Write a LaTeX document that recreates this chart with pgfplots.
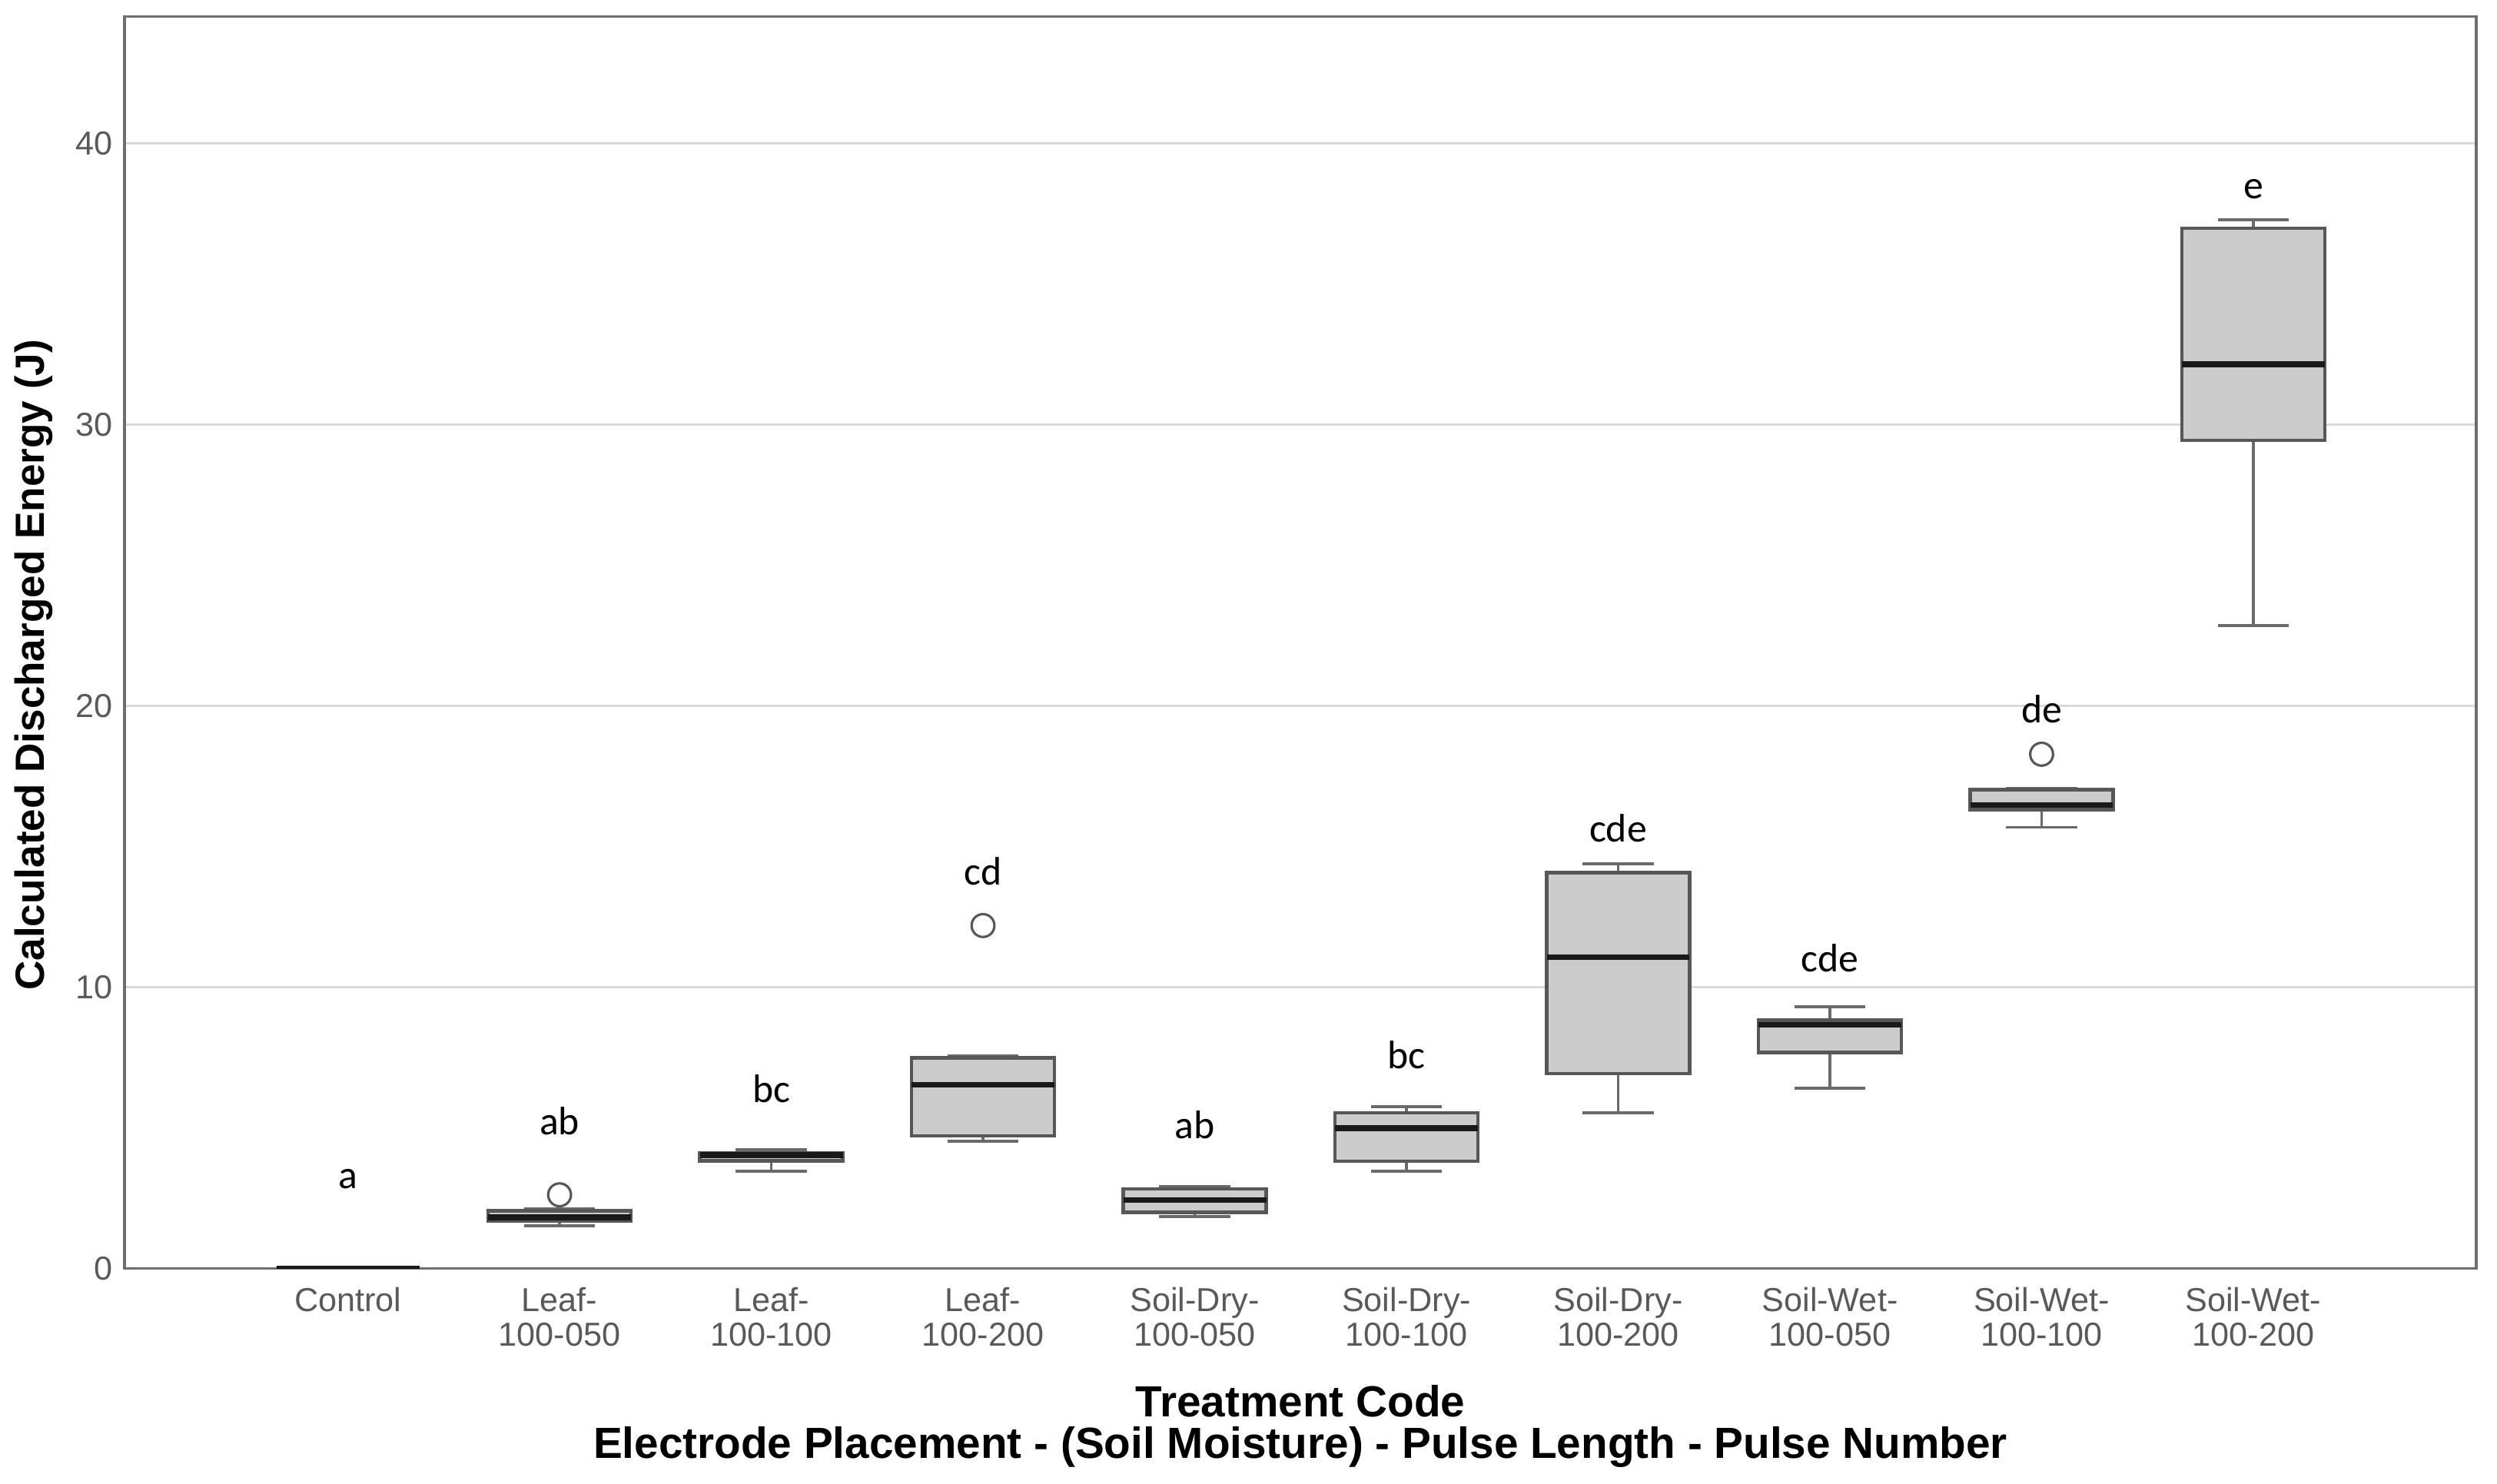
\documentclass[border=0pt]{standalone}
\usepackage{fontspec}
\setmainfont{Liberation Sans}
\newfontfamily\carlito{Carlito}
\usepackage{pgfplots}
\pgfplotsset{compat=1.18}
\usepgfplotslibrary{statistics}
\definecolor{boxfill}{HTML}{CCCCCC}
\definecolor{boxline}{HTML}{575757}
\definecolor{whisk}{HTML}{6A6A6A}
\definecolor{gridc}{HTML}{DADADA}
\definecolor{tickc}{HTML}{595959}
\definecolor{axisc}{HTML}{6E6E6E}
\pgfplotsset{
  bx/.style={
    boxplot/draw direction=y,
    boxplot/box extend=0.675,
    boxplot/whisker extend=0.335,
    draw=boxline, line width=0.9pt,
    mark=o, mark size=3.3pt,
    mark options={draw=boxline, fill=none, line width=0.7pt, solid},
    boxplot/every box/.style={draw=boxline, fill=boxfill, line width=1pt},
    boxplot/every median/.style={draw=black!90, line width=1.6pt},
    boxplot/every whisker/.style={draw=whisk, line width=0.8pt},
  }
}
\begin{document}
\begin{tikzpicture}
\begin{axis}[
  scale only axis, width=680pt, height=362pt,
  xmin=-1.055, xmax=10.053, ymin=0, ymax=44.5,
  axis line style={draw=axisc, line width=0.8pt},
  ytick={0,10,20,30,40},
  ymajorgrids, grid style={draw=gridc, line width=0.6pt},
  major tick length=0pt,
  xtick={0,1,2,3,4,5,6,7,8,9},
  xticklabels={Control, {Leaf-\\100-050}, {Leaf-\\100-100}, {Leaf-\\100-200},
    {Soil-Dry-\\100-050}, {Soil-Dry-\\100-100}, {Soil-Dry-\\100-200},
    {Soil-Wet-\\100-050}, {Soil-Wet-\\100-100}, {Soil-Wet-\\100-200}},
  xticklabel style={align=center, font=\fontsize{9.6}{10}\selectfont, text=tickc, inner sep=0pt, yshift=-5.2pt},
  yticklabel style={font=\fontsize{9.6}{11}\selectfont, text=tickc},
  /pgf/number format/assume math mode=true,
  xlabel={Treatment Code\\Electrode Placement - (Soil Moisture) - Pulse Length - Pulse Number},
  every axis x label/.style={at={(axis description cs:0.5,-0.126)}, anchor=center, align=center, font=\bfseries\fontsize{12.6}{12}\selectfont},
  ylabel={Calculated Discharged Energy (J)},
  every axis y label/.style={at={(axis description cs:-0.0385,0.482)}, rotate=90, anchor=center, font=\bfseries\fontsize{11.8}{13}\selectfont},
]
\addplot[bx, boxplot prepared={draw position=0, lower whisker=0, lower quartile=0, median=0, upper quartile=0, upper whisker=0}] coordinates {};
\addplot[bx, boxplot prepared={draw position=1, lower whisker=1.52, lower quartile=1.68, median=1.82, upper quartile=2.05, upper whisker=2.12}] coordinates {(1,2.62)};
\addplot[bx, boxplot prepared={draw position=2, lower whisker=3.46, lower quartile=3.83, median=4.03, upper quartile=4.12, upper whisker=4.23}] coordinates {};
\addplot[bx, boxplot prepared={draw position=3, lower whisker=4.53, lower quartile=4.72, median=6.54, upper quartile=7.49, upper whisker=7.55}] coordinates {(3,12.19)};
\addplot[bx, boxplot prepared={draw position=4, lower whisker=1.85, lower quartile=1.99, median=2.44, upper quartile=2.83, upper whisker=2.92}] coordinates {};
\addplot[bx, boxplot prepared={draw position=5, lower whisker=3.46, lower quartile=3.81, median=4.99, upper quartile=5.54, upper whisker=5.76}] coordinates {};
\addplot[bx, boxplot prepared={draw position=6, lower whisker=5.54, lower quartile=6.93, median=11.06, upper quartile=14.07, upper whisker=14.39}] coordinates {};
\addplot[bx, boxplot prepared={draw position=7, lower whisker=6.41, lower quartile=7.68, median=8.66, upper quartile=8.83, upper whisker=9.30}] coordinates {};
\addplot[bx, boxplot prepared={draw position=8, lower whisker=15.68, lower quartile=16.31, median=16.48, upper quartile=17.02, upper whisker=17.08}] coordinates {(8,18.28)};
\addplot[bx, boxplot prepared={draw position=9, lower whisker=22.85, lower quartile=29.44, median=32.14, upper quartile=36.97, upper whisker=37.28}] coordinates {};
\addplot[draw=none, mark=none, nodes near coords, point meta=explicit symbolic,
  every node near coord/.append style={inner sep=0pt, font=\carlito\fontsize{11.5}{13}\selectfont, text=black}]
  coordinates {(0,2.80)[a] (1,4.72)[ab] (2,5.87)[bc] (3,13.59)[cd] (4,4.58)[ab] (5,7.08)[bc] (6,15.12)[cde] (7,10.52)[cde] (8,19.37)[de] (9,38.0)[e]};
\end{axis}
\pgfresetboundingbox
\path[use as bounding box] ([shift={(-36pt,-62.2pt)}]current axis.south west) rectangle ([shift={(6pt,4.8pt)}]current axis.north east);
\end{tikzpicture}
\end{document}
